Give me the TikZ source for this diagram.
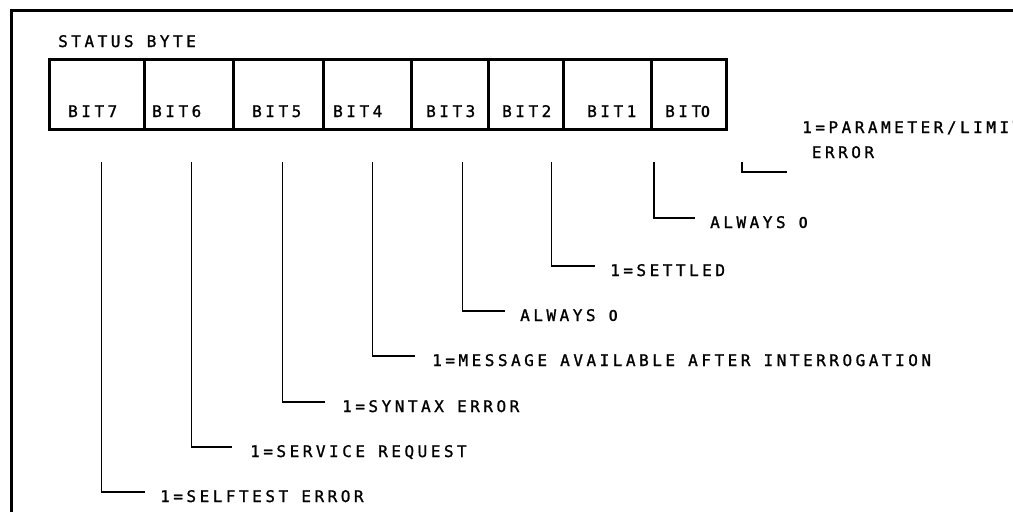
\documentclass[tikz,border=0pt]{standalone}
\usepackage{fontspec}
\newfontfamily\plotfont[LetterSpace=22,FakeBold=1.2]{DejaVu Sans Mono}
\newfontfamily\zerofont{Liberation Sans}
\newcommand{\pzero}{{\zerofont\bfseries\fontsize{16}{25}\selectfont 0}}
\begin{document}
\begin{tikzpicture}[x=1pt,y=-1pt,
  frame/.style={line width=3pt},
  cell/.style={draw,line width=2.6pt,minimum width=#1,minimum height=70pt,inner sep=0pt,anchor=north west},
  lbl/.style={font=\plotfont\fontsize{16}{25}\selectfont,inner sep=0pt,text height=11pt,text depth=0pt,anchor=base west,align=left},
  leader/.style={line width=1.6pt}]
\useasboundingbox (0,0) rectangle (1013,512);
\draw[frame] (11,512) -- (11,10) -- (1013,10);
\node[lbl] (title) at (58,47) {STATUS BYTE};
% cells
\node[cell=95pt]  (b7) at (48,58)  {};
\node[cell=89pt]  (b6) at (143,58) {};
\node[cell=90pt]  (b5) at (232,58) {};
\node[cell=88pt]  (b4) at (322,58) {};
\node[cell=77pt]  (b3) at (410,58) {};
\node[cell=75pt]  (b2) at (487,58) {};
\node[cell=88pt]  (b1) at (562,58) {};
\node[cell=75pt]  (b0) at (650,58) {};
\node[lbl] (l7) at (68,117)  {BIT7};
\node[lbl] (l6) at (152,117) {BIT6};
\node[lbl] (l5) at (252,117) {BIT5};
\node[lbl] (l4) at (333,117) {BIT4};
\node[lbl] (l3) at (426,117) {BIT3};
\node[lbl] (l2) at (502,117) {BIT2};
\node[lbl] (l1) at (587,117) {BIT1};
\node[lbl] (l0) at (665,117) {BIT\pzero};
% descriptions
\node[lbl] (t7) at (160,502) {1=SELFTEST ERROR};
\node[lbl] (t6) at (250,457) {1=SERVICE REQUEST};
\node[lbl] (t5) at (342,412) {1=SYNTAX ERROR};
\node[lbl] (t4) at (432,366) {1=MESSAGE AVAILABLE AFTER INTERROGATION};
\node[lbl] (t3) at (520,321) {ALWAYS \pzero};
\node[lbl] (t2) at (610,276) {1=SETTLED};
\node[lbl] (t1) at (710,228) {ALWAYS \pzero};
\node[lbl] (t0) at (802,158) {1=PARAMETER/LIMIT\\\phantom{1}ERROR};
% leader tops
\coordinate (v7) at (101.5,162);
\coordinate (v6) at (191.5,162);
\coordinate (v5) at (282.5,162);
\coordinate (v4) at (372.5,162);
\coordinate (v3) at (462.5,162);
\coordinate (v2) at (551.5,162);
\coordinate (v1) at (654,162);
\coordinate (v0) at (742,162);
\draw[leader] (v7) |- ([shift={(-15pt,4.5pt)}]t7.west);
\draw[leader] (v6) |- ([shift={(-18pt,4.5pt)}]t6.west);
\draw[leader] (v5) |- ([shift={(-17pt,4.5pt)}]t5.west);
\draw[leader] (v4) |- ([shift={(-17pt,4.5pt)}]t4.west);
\draw[leader] (v3) |- ([shift={(-15pt,4.5pt)}]t3.west);
\draw[leader] (v2) |- ([shift={(-15pt,4.5pt)}]t2.west);
\draw[leader] (v1) |- ([shift={(-15pt,4.5pt)}]t1.west);
\draw[leader] (v0) |- ([shift={(-15pt,-14pt)}]t0.base west);
\end{tikzpicture}
\end{document}
